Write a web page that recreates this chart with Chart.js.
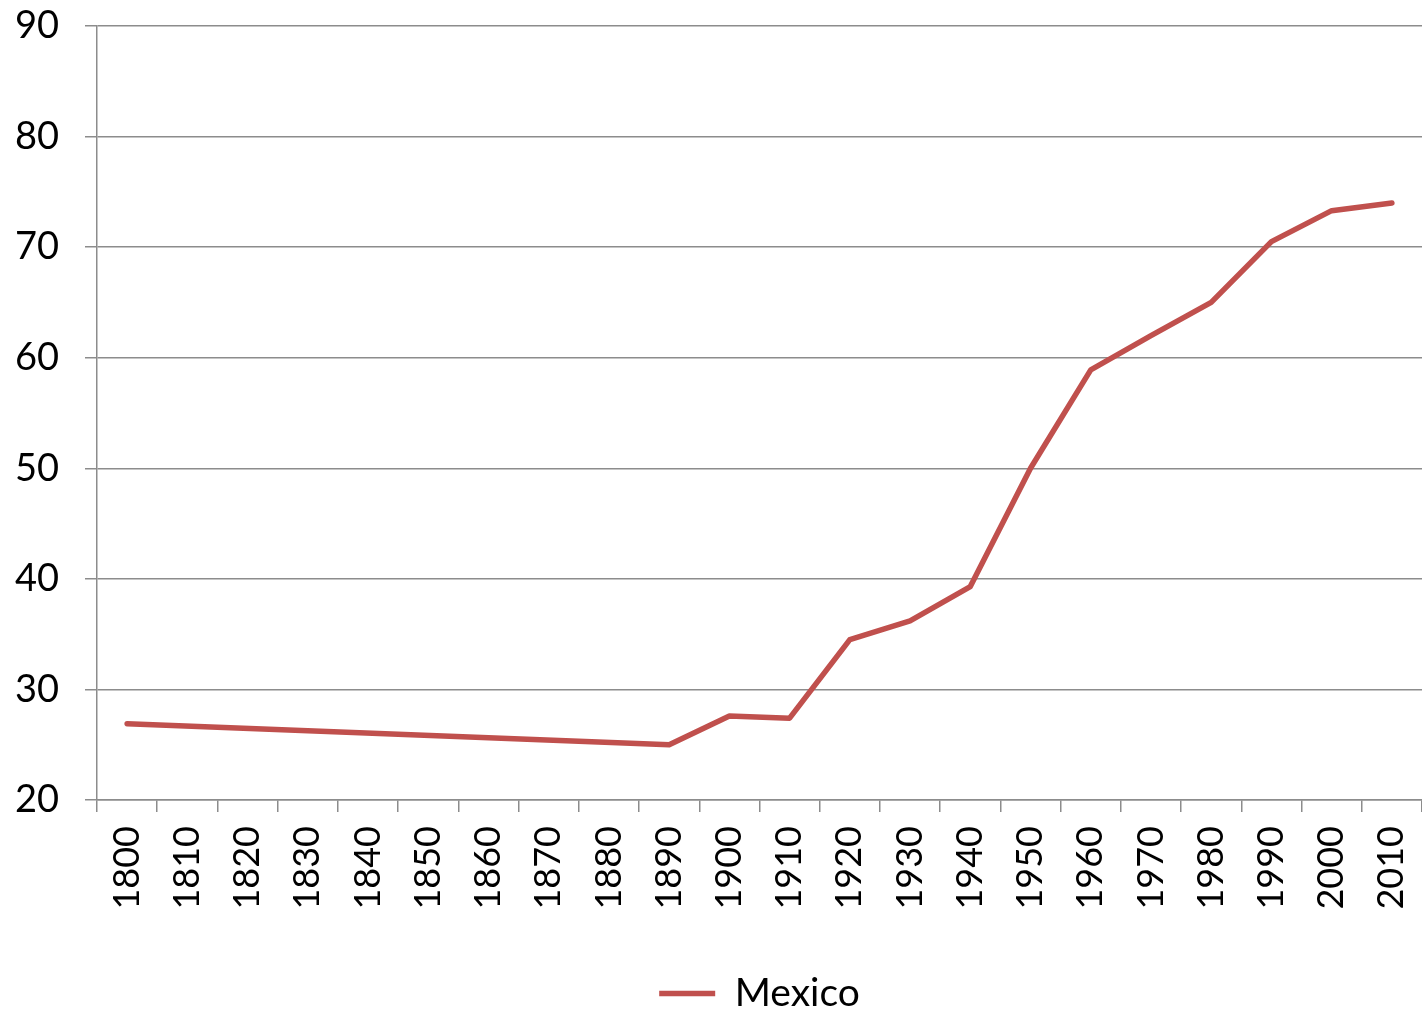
<!DOCTYPE html>
<html>
<head>
<meta charset="utf-8">
<script src="https://cdn.jsdelivr.net/npm/chart.js@4/dist/chart.umd.min.js"></script>
<style>
  html, body { margin: 0; padding: 0; background: #fff; }
  #wrap { width: 1422px; height: 1013px; }
</style>
</head>
<body>
<div id="wrap"><canvas id="chart" width="1422" height="1013"></canvas></div>
<script>
var years = ['1800','1810','1820','1830','1840','1850','1860','1870','1880','1890','1900',
             '1910','1920','1930','1940','1950','1960','1970','1980','1990','2000','2010'];
// life expectancy, no values between 1800 and 1890 (line just joins them)
var mexico = [26.9, null, null, null, null, null, null, null, null, 25.0, 27.6,
              27.4, 34.5, 36.2, 39.3, 50.0, 58.9, 62.0, 65.0, 70.5, 73.3, 74.0];
var yTicks = [20, 30, 40, 50, 60, 70, 80, 90];

var family = 'Lato, "Open Sans", sans-serif';
var gridColor = '#8c8c8c';

new Chart(document.getElementById('chart'), {
  type: 'line',
  data: {
    labels: years,
    datasets: [{
      label: 'Mexico',
      data: mexico,
      borderColor: '#c0504d',
      backgroundColor: '#c0504d',
      borderWidth: 5.5,
      pointRadius: 0,
      pointStyle: 'line',
      tension: 0,
      spanGaps: true,
      borderCapStyle: 'round',
      borderJoinStyle: 'round'
    }]
  },
  options: {
    responsive: false,
    animation: false,
    layout: { padding: { top: 26, right: -6, left: 0, bottom: -10 } },
    plugins: {
      tooltip: { enabled: false },
      legend: {
        position: 'bottom',
        fullSize: false,
        labels: {
          font: { family: family, size: 39 },
          color: '#000',
          usePointStyle: true,
          pointStyle: 'line',
          pointStyleWidth: 56,
          padding: 2
        }
      }
    },
    scales: {
      x: {
        offset: true,
        afterFit: function(scale) {
          scale.paddingLeft = 0;
          scale.paddingRight = 0;
          scale.height = 172;
        },
        grid: {
          offset: true,
          color: gridColor,
          lineWidth: 1.5,
          drawOnChartArea: false,
          drawTicks: true,
          tickLength: 12
        },
        border: { color: gridColor, width: 1.5 },
        ticks: {
          font: { family: family, size: 36 },
          color: '#000',
          maxRotation: 90,
          minRotation: 90,
          autoSkip: false,
          padding: 14
        }
      },
      y: {
        min: yTicks[0],
        max: yTicks[yTicks.length - 1],
        afterBuildTicks: function(scale) {
          scale.ticks = yTicks.map(function(v) { return { value: v }; });
        },
        afterFit: function(scale) {
          scale.width = 97;
          scale.paddingTop = 0;
          scale.paddingBottom = 0;
        },
        grid: {
          color: gridColor,
          lineWidth: 1.5,
          tickLength: 12
        },
        border: { color: gridColor, width: 1.5 },
        ticks: {
          font: { family: family, size: 38 },
          color: '#000',
          padding: 26
        }
      }
    }
  }
});
</script>
</body>
</html>
